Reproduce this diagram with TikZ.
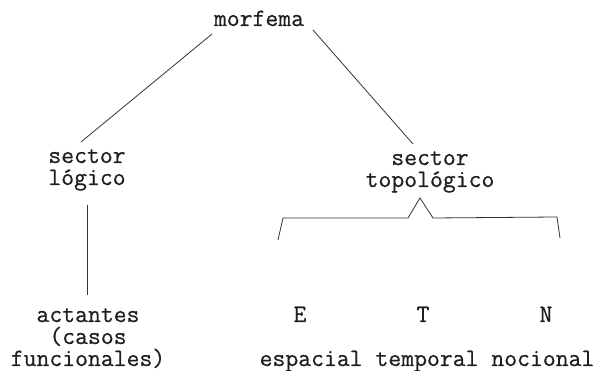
\documentclass[tikz,border=0pt]{standalone}
\usepackage{fontspec}
\setmonofont[FakeBold=0.6]{Latin Modern Mono}
\usetikzlibrary{calc}
\begin{document}
\begin{tikzpicture}[x=1pt,y=-1pt,
  lbl/.style={inner sep=0pt,anchor=base,align=center,
    font=\ttfamily\fontsize{25}{22}\selectfont,text=black!88},
  ln/.style={draw=black!80,line width=0.8pt}]
\useasboundingbox (0,0) rectangle (611,371);
\node[lbl] (morf) at (259,26) {morfema};
\node[lbl] (seclog) at (87,185) {sector\\lógico};
\node[lbl] (sectop) at (430,187) {sector\\topológico};
\node[lbl] (act) at (88,366) {actantes\\(casos\\funcionales)};
\node[lbl] (E) at (300,322) {E};
\node[lbl] (T) at (423,322) {T};
\node[lbl] (N) at (546,322) {N};
\node[lbl] (esp) at (427,366) {espacial temporal nocional};
\coordinate (lA) at (212,34);
\coordinate (lB) at (81,142);
\coordinate (rA) at (313,30);
\coordinate (rB) at (413,144);
\draw[ln] (lA) -- (lB);
\draw[ln] (rA) -- (rB);
\coordinate (vA) at (87,205);
\coordinate (vB) at (87,295);
\draw[ln] (vA) -- (vB);
\draw[ln] (278,240) -- (283,218) -- (408,218) -- (420,198) -- (433,218) -- (557,217) -- (560,238);
\end{tikzpicture}
\end{document}
